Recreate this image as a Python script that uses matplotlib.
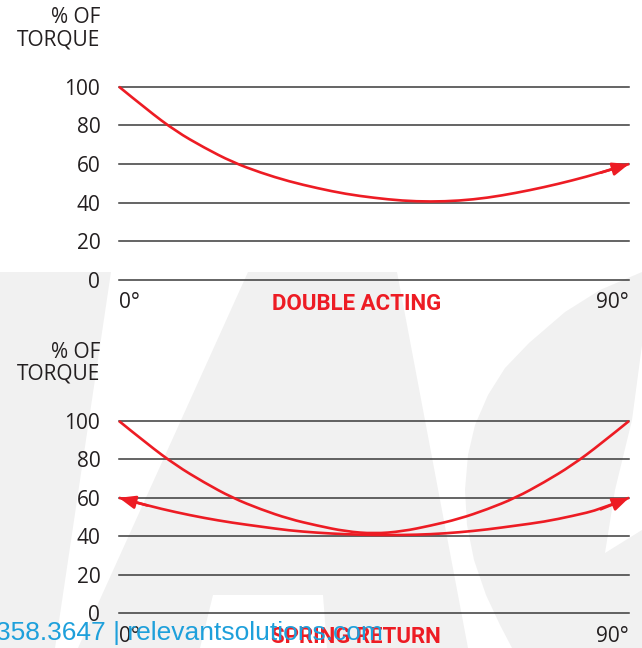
import matplotlib

matplotlib.use("Agg")
import matplotlib.pyplot as plt
from matplotlib.patches import PathPatch, Polygon
from matplotlib.path import Path

W, H = 642, 648
RED = "#ed1c24"
INK = "#231f20"
GRID = "#3a3a3a"
WATERMARK = "#f1f1f1"
LINK = "#1ea0db"

# torque curves (angle in degrees, % of torque)
angles = [0, 5, 10, 15, 20, 25, 30, 35, 40, 45, 50, 55, 60, 65, 70, 75, 80, 85, 90]
double_acting = [100, 88, 77, 68.5, 61, 55.5, 51, 47.5, 44.5, 42.5, 41, 40.5, 41, 42.5, 45, 48, 51.5, 55.5, 60]
spring_air = [100, 88, 77, 68, 60, 54, 49, 45.5, 42.5, 41.3, 42.5, 45.5, 49, 54, 60, 68, 77, 88, 100]
spring_stroke = [60, 56, 52.5, 49.5, 47, 45, 43, 41.8, 41, 40.6, 40.6, 41, 42, 43.5, 45.5, 47.5, 50.5, 54, 60]

grid_levels = [0, 20, 40, 60, 80, 100]
grid_labels = ["0", "20", "40", "60", "80", "100"]
angle_ticks = [0, 90]
angle_labels = ["0°", "90°"]
panel_titles = ["DOUBLE ACTING", "SPRING RETURN"]
ylabel = "% OF\nTORQUE"
footer = "358.3647 | relevantsolutions.com"


def fx(x):
    return x / W


def fy(y):
    return 1 - y / H


def smooth_path(xs, ys):
    # quadratic segments: each read point is a control point, segments join at midpoints
    verts = [(xs[0], ys[0])]
    codes = [Path.MOVETO]
    for i in range(1, len(xs) - 1):
        mid = ((xs[i] + xs[i + 1]) / 2, (ys[i] + ys[i + 1]) / 2)
        if i == len(xs) - 2:
            mid = (xs[-1], ys[-1])
        verts += [(xs[i], ys[i]), mid]
        codes += [Path.CURVE3, Path.CURVE3]
    return Path(verts, codes)


def draw_watermark(fig):
    bg = fig.add_axes([0, 0, 1, 1], zorder=0)
    bg.set_xlim(0, W)
    bg.set_ylim(H, 0)
    bg.axis("off")
    bg.add_patch(Polygon([(0, 272), (W, 272), (W, H), (0, H)], closed=True, color=WATERMARK, lw=0))
    white_shapes = [
        [(111, 272), (248, 272), (78, H), (55, H)],
        [(213, 595), (323, 595), (327, H), (200, H)],
        [(397, 272), (642, 272), (600, 290), (565, 312), (529, 343), (505, 368), (488, 395),
         (475, 425), (468, 455), (465, 490), (467, 525), (474, 560), (486, 595), (500, 625),
         (512, H), (468, H)],
        [(642, 345), (632, 420), (615, 490), (605, 553), (642, 530)],
    ]
    for shape in white_shapes:
        bg.add_patch(Polygon(shape, closed=True, color="white", lw=0))


def draw_panel(fig, top_px, bottom_px, curves, arrow_ends, title):
    ax = fig.add_axes([fx(119), fy(bottom_px), fx(629) - fx(119), (bottom_px - top_px) / H], zorder=1)
    ax.patch.set_alpha(0)
    ax.set_xlim(0, 90)
    ax.set_ylim(0, 100)
    for spine in ax.spines.values():
        spine.set_visible(False)
    for level in grid_levels:
        ax.axhline(level, color=GRID, lw=1.1, clip_on=False, zorder=1)
    for values in curves:
        ax.add_patch(PathPatch(smooth_path(angles, values), fill=False, edgecolor=RED, lw=1.9,
                               clip_on=False, zorder=3, capstyle="butt"))
    for values, ends in zip(curves, arrow_ends):
        for end in ends:
            tip, tail = (-1, -2) if end == "right" else (0, 1)
            ax.annotate("", xy=(angles[tip], values[tip]), xytext=(angles[tail], values[tail]),
                        arrowprops=dict(arrowstyle="-|>,head_length=0.7,head_width=0.28", color=RED,
                                        lw=1.9, shrinkA=0, shrinkB=0, mutation_scale=14),
                        annotation_clip=False, zorder=4)
    ax.set_yticks(grid_levels, grid_labels)
    ax.set_xticks(angle_ticks, angle_labels)
    ax.tick_params(axis="y", length=0, pad=13.5, labelsize=15, labelcolor=INK)
    ax.tick_params(axis="x", length=0, pad=9, labelsize=15, labelcolor=INK)
    xl = ax.get_xticklabels()
    xl[0].set_horizontalalignment("left")
    xl[1].set_horizontalalignment("right")
    ax.text(0.465, -0.125, title, transform=ax.transAxes, ha="center", va="center",
            color=RED, fontsize=16, fontweight="bold", family="Roboto", zorder=5)
    fig.text(fx(100), fy(top_px - 58), ylabel, ha="right", va="center", fontsize=15,
             color=INK, linespacing=1.05)
    return ax


plt.rcParams["font.family"] = ["Open Sans", "DejaVu Sans"]
fig = plt.figure(figsize=(W / 100, H / 100), dpi=100)
fig.patch.set_facecolor("white")

draw_watermark(fig)
draw_panel(fig, 86.7, 280, [double_acting], [["right"]], panel_titles[0])
draw_panel(fig, 421, 613, [spring_air, spring_stroke], [[], ["left", "right"]], panel_titles[1])

fig.text(fx(-4), fy(633), footer, ha="left", va="center", fontsize=19, color=LINK,
         family="Liberation Sans", zorder=10)

fig.savefig("out.png", dpi=100, facecolor="white")
